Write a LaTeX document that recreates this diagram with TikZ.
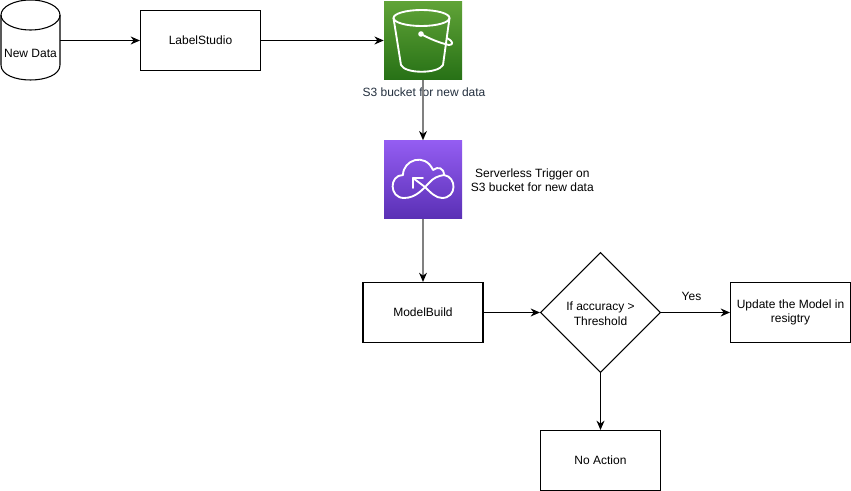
\documentclass[tikz,border=0pt]{standalone}
\usepackage{fontspec}
\setmainfont{Liberation Sans}
\usetikzlibrary{positioning,shapes.geometric,arrows.meta}
\definecolor{capt}{HTML}{232F3E}
\definecolor{s3top}{HTML}{60A337}
\definecolor{s3bottom}{HTML}{277116}
\definecolor{triggertop}{HTML}{945DF2}
\definecolor{triggerbottom}{HTML}{5A30B5}
\tikzset{
  flow box/.style={draw,thick,minimum width=90pt,minimum height=45pt,align=center,font=\fontsize{9}{11}\selectfont},
  icon box/.style={minimum width=58.5pt,minimum height=58.5pt,inner sep=0pt},
  icon line/.style={white,line width=1.4pt,line join=round,line cap=round},
  flow/.style={thick,-{Stealth[length=7pt,width=6pt]}},
  grey flow/.style={gray,line width=1.5pt,-{Stealth[length=7pt,width=6pt,black,line width=0pt]}}
}
\begin{document}
\begin{tikzpicture}[x=0.75pt,y=-0.75pt,font=\fontsize{9}{11}\selectfont]
\useasboundingbox (0,0) rectangle (851,491);
\node [minimum width=44.25pt,minimum height=60pt,inner sep=0pt] (newdata) at (30.5,40.5) {};
\draw [thick] (1,15) -- (1,65) .. controls (1,85) and (60,85) .. (60,65) -- (60,15);
\draw [thick] (30.5,15) ellipse (29.5 and 15);
\node (newdatatext) at (30.5,53) {New Data};
\node [flow box] (label) at (200.5,40.5) {LabelStudio};
\node [icon box,shading=axis,top color=s3top,bottom color=s3bottom] (s3) at (423,40.5) {};
\node [icon box,shading=axis,top color=triggertop,bottom color=triggerbottom] (trigger) at (423,179.5) {};
\node [text=capt] (s3text) at (424,92.5) {S3 bucket for new data};
\node [align=center,right=3pt of trigger.east,yshift=-0.5pt] (triggertext) {Serverless Trigger on\\S3 bucket for new data};
\node [flow box] (build) at (423,312.5) {ModelBuild};
\node [draw,thick,diamond,aspect=1,minimum width=90pt,minimum height=90pt,inner sep=0pt,align=center] (check) at (600.5,312.5) {};
\node [align=center] (checktext) at (600.5,313.5) {If accuracy >\\Threshold};
\node [flow box] (update) at (790.5,312.5) {Update the Model in\\resigtry};
\node [flow box] (none) at (600.5,460.5) {No Action};
\draw [flow] (newdata.east) -- (label);
\draw [flow] (label) -- (s3);
\draw [grey flow] (s3) -- (trigger);
\draw [grey flow] (trigger) -- (build);
\draw [flow] (build) -- (check);
\draw [flow] (check) -- node [above=5pt,xshift=-3pt] (yes) {Yes} (update);
\draw [flow] (check) -- (none);
% bucket
\draw [icon line] (421.5,18) ellipse (28 and 8);
\draw [icon line] (393.5,18) -- (401,65) .. controls (405,74) and (438,74) .. (443,65) -- (449.5,18);
\draw [icon line] (421,34) .. controls (430,39) and (440,43) .. (449,45) .. controls (454,45) and (453,41) .. (447,38);
\fill [white] (421,34) circle (2.8);
% cloud
\draw [icon line] (404,198) .. controls (389,198) and (389,175) .. (403,175) .. controls (403,160) and (425,152) .. (433,170) .. controls (438,166) and (444,168) .. (444,175) .. controls (457,177) and (457,198) .. (442,198) .. controls (436,198) and (431,193) .. (425,187) -- (413,178);
\draw [icon line] (404,198) .. controls (416,198) and (423,189) .. (429,183) .. controls (433,178) and (438,176) .. (444,175);
\draw [icon line] (413,188) -- (413,178) -- (423,178);
\end{tikzpicture}
\end{document}
